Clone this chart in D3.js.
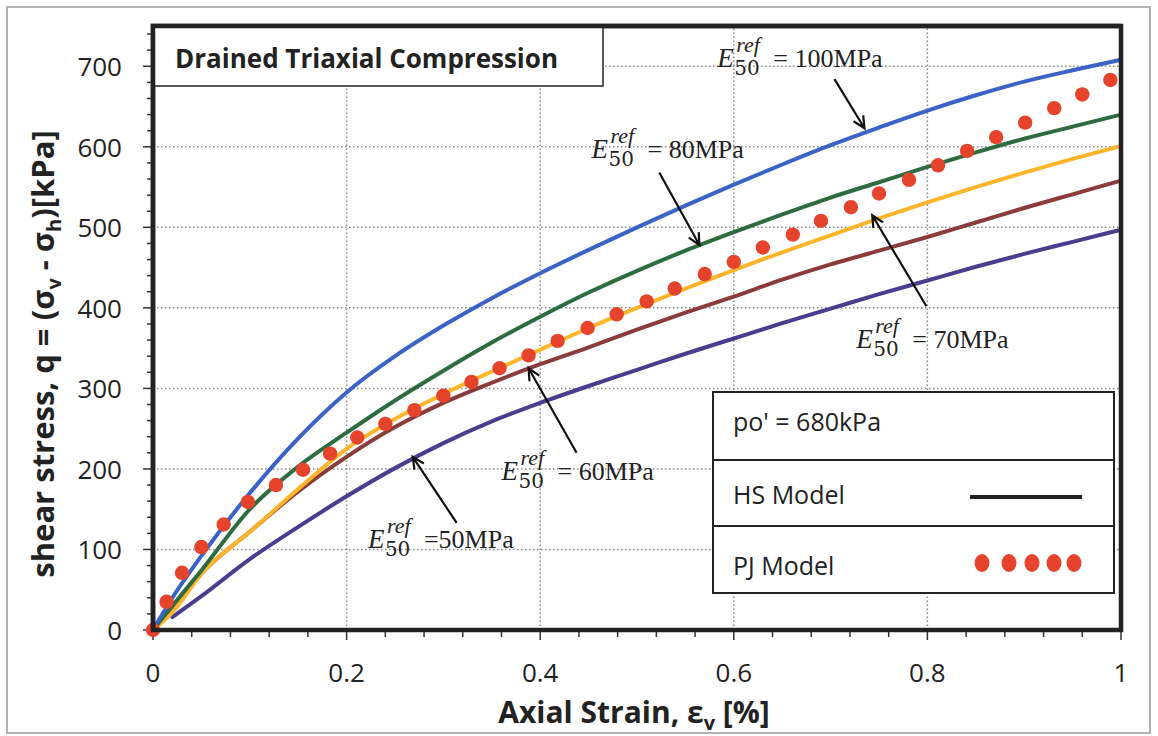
<!DOCTYPE html>
<html>
<head>
<meta charset="utf-8">
<script src="https://cdn.jsdelivr.net/npm/d3@7"></script>
<style>
  body { margin: 0; background: #fff; }
  svg text { font-family: "Open Sans", sans-serif; fill: #222; }
</style>
</head>
<body>
<div id="container"></div>
<script>
/* CONSTANTS AND GLOBALS */
const width = 1158;
const height = 736;
const margin = { top: 26, bottom: 106, left: 153, right: 36 };

/* DATA */
// HS model curves, one value per strain step (null = no point)
const hsStrain = [0, 0.02, 0.05, 0.1, 0.15, 0.2, 0.25, 0.3, 0.35, 0.4, 0.45, 0.5, 0.55, 0.6, 0.65, 0.7, 0.75, 0.8, 0.85, 0.9, 0.95, 1.0];
const hs100 = [0, 40, 92, 170, 238, 295, 340, 378, 412, 443, 472, 500, 527, 553, 578, 602, 624, 645, 664, 681, 695, 708];
const hs80  = [0, 30, 74, 150, 203, 245, 285, 322, 357, 389, 419, 446, 471, 494, 516, 537, 556, 575, 593, 610, 625, 640];
const hs70  = [0, 22, 70, 122, 175, 225, 262, 293, 321, 348, 375, 400, 424, 447, 469, 490, 511, 531, 550, 568, 585, 601];
const hs60  = [0, 24, 70, 122, 172, 215, 252, 282, 307, 330, 351, 373, 394, 414, 435, 454, 471, 488, 506, 524, 541, 558];
const hs50  = [null, 16, 42, 88, 128, 166, 201, 232, 259, 282, 303, 323, 343, 362, 381, 399, 417, 434, 451, 467, 482, 497];

const moduli = [100, 80, 70, 60, 50];
const seriesColors = ["#3b62c6", "#2f6b40", "#ffb52b", "#8a3b3c", "#4b3c8e"];

// PJ model points
const pjStrain = [0, 0.014, 0.03, 0.05, 0.073, 0.098, 0.127, 0.155, 0.183, 0.211, 0.240, 0.270, 0.300, 0.329, 0.358, 0.388,
  0.418, 0.449, 0.479, 0.510, 0.539, 0.570, 0.600, 0.630, 0.661, 0.690, 0.721, 0.750, 0.781, 0.811, 0.841, 0.871, 0.901, 0.931, 0.960, 0.989];
const pjStress = [0, 35, 71, 103, 131, 159, 180, 199, 219, 239, 256, 273, 291, 308, 325, 341,
  359, 375, 392, 408, 424, 442, 457, 475, 491, 508, 525, 542, 559, 577, 595, 612, 630, 648, 665, 683];

const xTicks = [0, 0.2, 0.4, 0.6, 0.8, 1];
const yTicks = [0, 100, 200, 300, 400, 500, 600, 700];

// annotation anchors (data units): label, arrow tail, arrow tip
const labelAt = [[0.583, 699], [0.453, 586], [0.7265, 350], [0.360, 186], [0.222, 102]];
const arrowFrom = [[0.704, 684], [0.523, 568], [0.799, 402], [0.4376, 220], [0.3137, 133]];
const arrowTo = [[0.735, 623], [0.5645, 478], [0.743, 515], [0.388, 325], [0.2683, 215]];

/* SCALES */
const xScale = d3.scaleLinear().domain([0, 1]).range([margin.left, width - margin.right - 1]);
const yScale = d3.scaleLinear().domain([0, 750]).range([height - margin.bottom, margin.top]);

const svg = d3.select('#container')
  .append('svg')
  .attr('width', width)
  .attr('height', height);

// outer frame
svg.append('rect')
  .attr('x', 7).attr('y', 7).attr('width', 1143).attr('height', 726)
  .attr('fill', 'none').attr('stroke', '#9a9a9a').attr('stroke-width', 1.5);

// grid
const grid = svg.append('g').attr('stroke', '#858585').attr('stroke-width', 1.5).attr('stroke-dasharray', '1.5,2.5');
grid.selectAll('line.gx').data(xTicks.filter(d => d > 0 && d < 1)).join('line')
  .attr('x1', d => xScale(d)).attr('x2', d => xScale(d))
  .attr('y1', yScale(0)).attr('y2', yScale(750));
grid.selectAll('line.gy').data(yTicks.filter(d => d > 0)).join('line')
  .attr('x1', xScale(0)).attr('x2', xScale(1))
  .attr('y1', d => yScale(d)).attr('y2', d => yScale(d));

// minor + major ticks
const tickG = svg.append('g').attr('stroke', '#333').attr('stroke-width', 1.5);
tickG.selectAll('line.ty').data(d3.range(0, 741, 20)).join('line')
  .attr('x1', d => xScale(0) - (d % 100 === 0 ? 10 : 6)).attr('x2', xScale(0))
  .attr('y1', d => yScale(d)).attr('y2', d => yScale(d));
tickG.selectAll('line.tx').data(d3.range(0, 26).map(i => i * 0.04)).join('line')
  .attr('x1', d => xScale(d)).attr('x2', d => xScale(d))
  .attr('y1', yScale(0)).attr('y2', (d, i) => yScale(0) + (i % 5 === 0 ? 10 : 7));

// tick labels
svg.append('g').selectAll('text').data(yTicks).join('text')
  .attr('x', 122).attr('y', d => yScale(d) + 10)
  .attr('text-anchor', 'end').attr('font-size', 26)
  .text(d => d);
svg.append('g').selectAll('text').data(xTicks).join('text')
  .attr('x', d => xScale(d)).attr('y', 682)
  .attr('text-anchor', 'middle').attr('font-size', 26)
  .text(d => d);

// HS curves
const line = d3.line()
  .defined(d => d[1] !== null)
  .x(d => xScale(d[0])).y(d => yScale(d[1]))
  .curve(d3.curveMonotoneX);
const hsSeries = [hs100, hs80, hs70, hs60, hs50];
const drawOrder = [4, 3, 2, 1, 0];
svg.append('g').selectAll('path').data(drawOrder).join('path')
  .attr('d', i => line(hsStrain.map((s, k) => [s, hsSeries[i][k]])))
  .attr('fill', 'none')
  .attr('stroke', i => seriesColors[i])
  .attr('stroke-width', 4)
  .attr('stroke-linecap', 'round');

// PJ dots
svg.append('g').selectAll('circle').data(pjStrain).join('circle')
  .attr('cx', d => xScale(d))
  .attr('cy', (d, i) => yScale(pjStress[i]))
  .attr('r', 7.2)
  .attr('fill', '#e5432b');

// plot frame
svg.append('rect')
  .attr('x', xScale(0)).attr('y', yScale(750))
  .attr('width', xScale(1) - xScale(0)).attr('height', yScale(0) - yScale(750))
  .attr('fill', 'none').attr('stroke', '#222').attr('stroke-width', 4.5);

// annotations
const ann = svg.append('g');
moduli.forEach((m, i) => {
  const px = xScale(labelAt[i][0]), py = yScale(labelAt[i][1]);
  const g = ann.append('g');
  g.append('text').attr('x', px).attr('y', py).attr('font-size', 27)
    .attr('font-style', 'italic').style('font-family', '"Liberation Serif", serif').text('E');
  g.append('text').attr('x', px + 19).attr('y', py - 15).attr('font-size', 22)
    .attr('font-style', 'italic').style('font-family', '"Liberation Serif", serif').text('ref');
  g.append('text').attr('x', px + 17).attr('y', py + 8).attr('font-size', 20)
    .style('font-family', '"DejaVu Serif", serif').text('50');
  g.append('text').attr('x', px + 56).attr('y', py).attr('font-size', 26)
    .style('font-family', '"Liberation Serif", serif')
    .text(m === 50 ? '=' + m + 'MPa' : '= ' + m + 'MPa');

  const x1 = xScale(arrowFrom[i][0]), y1 = yScale(arrowFrom[i][1]);
  const x2 = xScale(arrowTo[i][0]), y2 = yScale(arrowTo[i][1]);
  const ang = Math.atan2(y2 - y1, x2 - x1);
  const head = 13, spread = 0.45;
  ann.append('path')
    .attr('d', `M${x1},${y1}L${x2},${y2}` +
      `M${x2 - head * Math.cos(ang - spread)},${y2 - head * Math.sin(ang - spread)}L${x2},${y2}` +
      `L${x2 - head * Math.cos(ang + spread)},${y2 - head * Math.sin(ang + spread)}`)
    .attr('fill', 'none').attr('stroke', '#111').attr('stroke-width', 2.2);
});

// title box
svg.append('rect').attr('x', xScale(0)).attr('y', yScale(750)).attr('width', 450).attr('height', 60)
  .attr('fill', '#fff').attr('stroke', '#222').attr('stroke-width', 1.5);
svg.append('text').attr('x', 175).attr('y', 68).attr('font-size', 26).attr('font-weight', 'bold')
  .text('Drained Triaxial Compression');
// redraw thick frame corner over the title box
svg.append('path')
  .attr('d', `M${xScale(0)},${yScale(0)}V${yScale(750)}H${xScale(1)}`)
  .attr('fill', 'none').attr('stroke', '#222').attr('stroke-width', 4.5);

// legend
const lg = svg.append('g').attr('transform', 'translate(713,392)');
lg.append('rect').attr('width', 401).attr('height', 201).attr('fill', '#fff').attr('stroke', '#222').attr('stroke-width', 2);
lg.append('line').attr('x1', 0).attr('x2', 401).attr('y1', 68).attr('y2', 68).attr('stroke', '#222').attr('stroke-width', 2);
lg.append('line').attr('x1', 0).attr('x2', 401).attr('y1', 134).attr('y2', 134).attr('stroke', '#222').attr('stroke-width', 2);
lg.append('text').attr('x', 20).attr('y', 39).attr('font-size', 25).text("po' = 680kPa");
lg.append('text').attr('x', 20).attr('y', 112).attr('font-size', 25).text('HS Model');
lg.append('text').attr('x', 20).attr('y', 183).attr('font-size', 25).text('PJ Model');
lg.append('line').attr('x1', 257).attr('x2', 369).attr('y1', 105).attr('y2', 105).attr('stroke', '#222').attr('stroke-width', 4);
lg.selectAll('ellipse').data([269, 296, 319, 341, 361]).join('ellipse')
  .attr('cx', d => d).attr('cy', 171).attr('rx', 7.5).attr('ry', 9).attr('fill', '#e5432b');

// axis titles
const xt = svg.append('text').attr('x', 634).attr('y', 723).attr('text-anchor', 'middle')
  .attr('font-size', 30).attr('font-weight', 'bold');
xt.append('tspan').text('Axial Strain, ε');
xt.append('tspan').attr('font-size', 20).attr('dy', 7).text('v');
xt.append('tspan').attr('dy', -7).text(' [%]');

const yt = svg.append('text').attr('transform', 'translate(54,354) rotate(-90)')
  .attr('text-anchor', 'middle').attr('font-size', 31).attr('font-weight', 'bold');
yt.append('tspan').text('shear stress, q = (σ');
yt.append('tspan').attr('font-size', 20).attr('dy', 7).text('v');
yt.append('tspan').attr('dy', -7).text(' - σ');
yt.append('tspan').attr('font-size', 20).attr('dy', 7).text('h');
yt.append('tspan').attr('dy', -7).text(')[kPa]');
</script>
</body>
</html>
